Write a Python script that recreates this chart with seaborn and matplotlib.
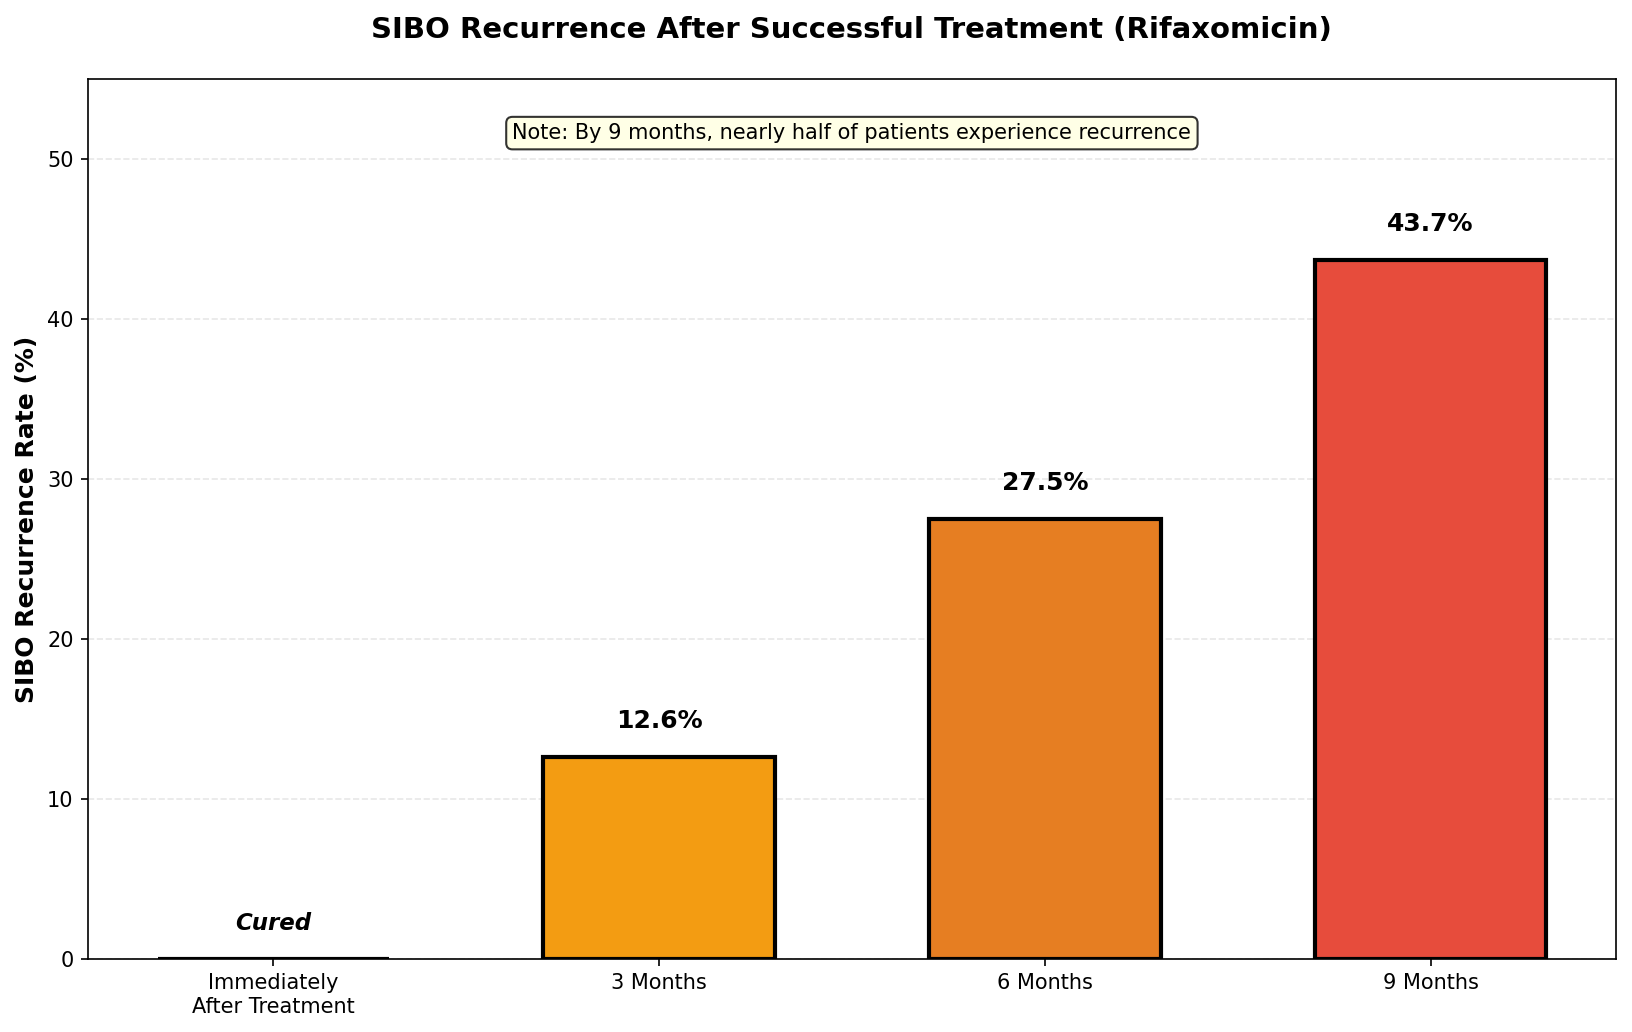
import seaborn as sns
import matplotlib.pyplot as plt
import pandas as pd

categories = ["Immediately\nAfter Treatment", "3 Months", "6 Months", "9 Months"]
recurrence = [0.0, 12.6, 27.5, 43.7]
bar_colors = ["#2ecc71", "#f39c12", "#e67e22", "#e74c3c"]
value_labels = ["Cured", "12.6%", "27.5%", "43.7%"]

df = pd.DataFrame({"Timepoint": categories, "Rate": recurrence})

fig, ax = plt.subplots(figsize=(10.88, 6.88), dpi=150)
fig.subplots_adjust(left=0.054, right=0.99, top=0.923, bottom=0.071)

sns.barplot(data=df, x="Timepoint", y="Rate", hue="Timepoint", palette=bar_colors,
            width=0.6, edgecolor="black", linewidth=2, legend=False, ax=ax, saturation=1)

for i, (v, lab) in enumerate(zip(recurrence, value_labels)):
    if v == 0:
        ax.text(i, v + 1.5, lab, ha="center", va="bottom", fontsize=11,
                fontweight="bold", fontstyle="italic")
    else:
        ax.text(i, v + 1.5, lab, ha="center", va="bottom", fontsize=12, fontweight="bold")

ax.set_xlim(-0.48, 3.48)
ax.set_ylim(0, 55)
ax.set_xlabel("")
ax.set_ylabel("SIBO Recurrence Rate (%)", fontsize=12, fontweight="bold")
ax.set_title("SIBO Recurrence After Successful Treatment (Rifaxomicin)",
             fontsize=14, fontweight="bold", pad=20)
ax.yaxis.grid(True, linestyle="--", alpha=0.3)
ax.set_axisbelow(True)
ax.tick_params(labelsize=10)

ax.text(0.5, 0.939, "Note: By 9 months, nearly half of patients experience recurrence",
        transform=ax.transAxes, ha="center", va="center", fontsize=10,
        bbox=dict(boxstyle="round,pad=0.3", facecolor="lightyellow", edgecolor="black", alpha=0.8))

plt.savefig("out.png", dpi=150)
plt.close()
